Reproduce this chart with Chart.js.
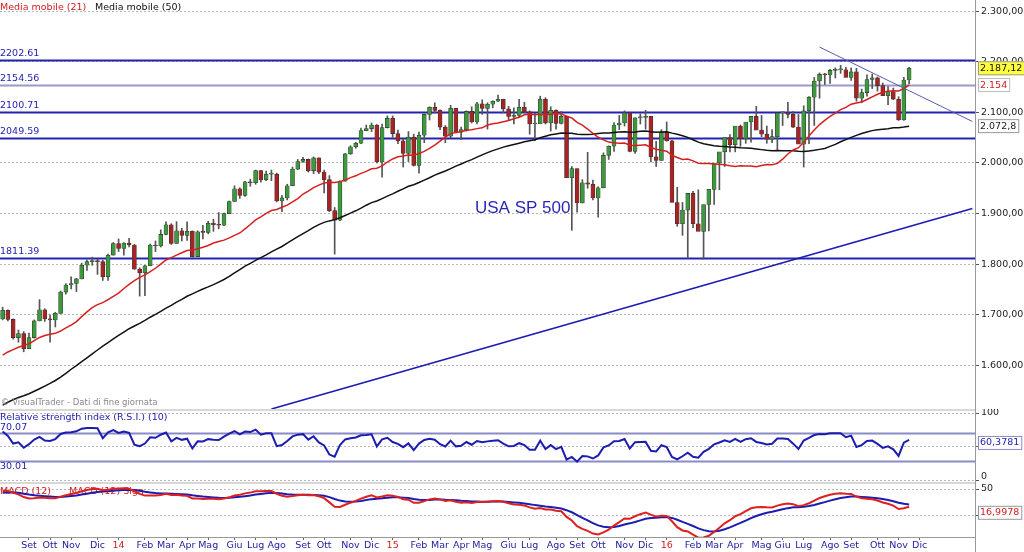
<!DOCTYPE html>
<html lang="it">
<head>
<meta charset="UTF-8">
<title>USA SP 500</title>
<style>
  body { margin: 0; background: #fff; width: 1024px; height: 552px; overflow: hidden; position: relative; font-family: "DejaVu Sans", Verdana, sans-serif; }
  canvas { position: absolute; left: 0; }
  #main { top: 0; }
  #rsi { top: 409px; }
  #macd { top: 482px; }
</style>
<script src="https://cdn.jsdelivr.net/npm/chart.js"></script>
</head>
<body>
<canvas id="main" width="1024" height="409"></canvas>
<canvas id="rsi" width="1024" height="73"></canvas>
<canvas id="macd" width="1024" height="70"></canvas>
<script>
// weekly candles, first week 2 Aug 2013
const firstWeek = Date.UTC(2013, 7, 2);
const emptyWeeksRight = 12;
const monthNames = ['Gen','Feb','Mar','Apr','Mag','Giu','Lug','Ago','Set','Ott','Nov','Dic'];

// weekly closes before the visible window (used only to warm up the averages)
const priorCloses = [1418,1411,1406,1438,1466,1460,1441,1460,1428,1433,1411,1414,1380,1360,1409,1416,1418,1413,1430,1402,
  1466,1472,1486,1503,1513,1518,1520,1516,1518,1551,1561,1556,1569,1553,1588,1555,1582,1614,1633,1667,1650,1631,1643,1626,1593,1606,1632,1680,1692,1691];

const opens = [
  1692,1709,1691,1655,1663,1633,1655,1688,1710,1692,1690,1703,1745,1759,1762,1771,1798,1805,1806,1805,1775,1818,
  1841,1831,1842,1838,1790,1783,1797,1838,1836,1859,1878,1841,1866,1857,1865,1815,1864,1863,1881,1878,1877,1900,1924,1949,1936,1963,1961,1985,1967,1978,1978,1925,1931,1955,1988,2003,2007,1985,2010,1982,1967,1906,1887,1964,2018,2032,2039,2064,2068,2075,2002,2070,
  2088,2058,2044,2019,2051,1995,2055,2096,2110,2104,2071,2053,2108,2061,2066,2102,2081,2117,2108,2116,2122,2126,2107,2092,2094,2110,2101,2077,2077,2126,2079,2104,2078,2092,1971,1989,1921,1961,1958,1931,1951,2015,2033,2075,2079,2099,2023,2089,2090,2092,2012,2005,2061,
  2044,1922,1880,1907,1940,1880,1865,1918,1948,2000,2022,2050,2036,2073,2048,2081,2092,2065,2057,2047,2052,2099,2099,2096,2071,2037,2103,2130,2162,2175,2174,2183,2184,2184,2169,2180,2128,2139,2165,2168,2153,2133,2141,2126,2085,2164];
const highs = [
  1715,1710,1692,1670,1667,1664,1690,1730,1712,1700,1705,1747,1762,1775,1772,1802,1808,1814,1810,1808,1820,1843,
  1850,1843,1851,1839,1793,1798,1840,1846,1868,1884,1880,1884,1871,1884,1866,1866,1877,1885,1889,1902,1901,1925,1955,1951,1964,1968,1986,1985,1984,1986,1980,1936,1958,1992,2007,2011,2008,2012,2010,1986,1975,1912,1965,2019,2034,2041,2069,2075,2079,2076,2077,2093,
  2093,2065,2047,2062,2057,2061,2097,2111,2119,2105,2074,2114,2107,2071,2103,2111,2120,2125,2119,2123,2134,2126,2112,2109,2126,2120,2103,2098,2132,2129,2111,2105,2102,2093,1993,1988,1967,2021,1966,1953,2020,2034,2080,2094,2103,2099,2089,2097,2104,2092,2043,2066,2081,
  2045,1952,1922,1917,1944,1947,1895,1930,1948,2010,2023,2056,2062,2075,2076,2085,2112,2094,2073,2066,2064,2101,2120,2102,2096,2113,2131,2169,2178,2177,2185,2188,2193,2189,2188,2187,2146,2174,2176,2170,2158,2151,2148,2131,2169,2189];
const lows = [
  1690,1688,1652,1646,1627,1633,1654,1688,1687,1646,1676,1703,1741,1751,1746,1771,1788,1798,1780,1768,1768,1818,
  1825,1818,1834,1790,1737,1738,1797,1825,1834,1858,1839,1841,1846,1847,1814,1816,1850,1860,1865,1870,1876,1900,1924,1930,1934,1954,1958,1962,1965,1965,1923,1904,1927,1955,1987,2001,1982,1979,1979,1941,1904,1820,1886,1964,2017,2029,2038,2064,2062,2000,1972,2069,
  2051,2038,1992,2003,1994,1980,2040,2085,2099,2066,2040,2050,2061,2046,2063,2079,2077,2096,2067,2109,2121,2099,2085,2077,2091,2099,2057,2044,2080,2077,2063,2067,2077,1971,1867,1903,1921,1950,1927,1893,1951,2007,2023,2066,2073,2022,2019,2077,2067,2002,1993,2005,2043,
  2038,1875,1857,1812,1872,1872,1810,1866,1918,1947,1993,2022,2022,2033,2039,2041,2077,2052,2039,2040,2025,2074,2089,2070,2050,1992,2038,2074,2128,2155,2157,2168,2177,2175,2163,2122,2119,2132,2147,2142,2133,2115,2125,2084,2084,2156];
const closes = [
  1709,1691,1655,1663,1633,1655,1688,1710,1692,1690,1703,1745,1759,1762,1771,1798,1805,1806,1805,1775,1818,1841,
  1831,1842,1838,1790,1783,1797,1838,1836,1859,1878,1841,1866,1857,1865,1815,1864,1863,1881,1878,1877,1900,1924,1949,1936,1963,1961,1985,1967,1978,1978,1925,1931,1955,1988,2003,2007,1985,2010,1982,1967,1906,1887,1964,2018,2032,2039,2064,2068,2075,2002,2070,2088,
  2058,2044,2019,2051,1995,2055,2096,2110,2104,2071,2053,2108,2061,2066,2102,2081,2117,2108,2116,2122,2126,2107,2092,2094,2110,2101,2077,2077,2126,2079,2104,2078,2092,1971,1989,1921,1961,1958,1931,1951,2015,2033,2075,2079,2099,2023,2089,2090,2092,2012,2005,2061,2044,
  1922,1880,1907,1940,1880,1865,1918,1948,2000,2022,2050,2036,2073,2048,2081,2092,2065,2057,2047,2052,2099,2099,2096,2071,2037,2103,2130,2162,2175,2174,2183,2184,2184,2169,2180,2128,2139,2165,2168,2153,2133,2141,2126,2085,2164,2187.12];

// horizontal levels and trend lines [weekIndex, value]
const levels = [2202.61, 2154.56, 2100.71, 2049.59, 1811.39];
const levelColors = ['#2323b0', '#9a9ac8', '#2323b0', '#2323b0', '#2323b0'];
const upTrend = [[51, 1514], [184, 1910]];
const downTrend = [[155, 2229], [184, 2082]];
const rsiLevels = [70.07, 30.01];
const mainTicks = [1600, 1700, 1800, 1900, 2000, 2100, 2200, 2300];
const rsiTicks = [0, 50, 100];
const macdTicks = [0, 50];

const n = closes.length;
const total = n + emptyWeeksRight;
const weeks = [];
for (let i = 0; i < total; i++) weeks.push(new Date(firstWeek + i * 7 * 86400000));
const labels = weeks.map(d => d.toISOString().slice(0, 10));

// indicators
const allCloses = priorCloses.concat(closes);
const off = priorCloses.length;
function sma(p) {
  const out = [];
  for (let i = 0; i < n; i++) {
    let s = 0;
    for (let k = 0; k < p; k++) s += allCloses[off + i - k];
    out.push(s / p);
  }
  return out;
}
function ema(src, p) {
  const a = 2 / (p + 1); const out = [src[0]];
  for (let i = 1; i < src.length; i++) out.push(src[i] * a + out[i - 1] * (1 - a));
  return out;
}
const ma21 = sma(21), ma50 = sma(50);
const e12 = ema(allCloses, 12), e26 = ema(allCloses, 26);
const macdAll = e12.map((v, i) => v - e26[i]);
const sigAll = ema(macdAll, 9);
const macd = macdAll.slice(off), sig = sigAll.slice(off);
const rsiAll = [];
{
  let g = 0, l = 0;
  for (let i = 1; i <= 10; i++) { const d = allCloses[i] - allCloses[i - 1]; if (d > 0) g += d; else l -= d; }
  g /= 10; l /= 10;
  for (let i = 11; i < allCloses.length; i++) {
    const d = allCloses[i] - allCloses[i - 1];
    g = (g * 9 + Math.max(d, 0)) / 10; l = (l * 9 + Math.max(-d, 0)) / 10;
    rsiAll[i] = 100 - 100 / (1 + g / l);
  }
}
const rsi = rsiAll.slice(off);

const FONT = '"DejaVu Sans", Verdana, sans-serif';
Chart.defaults.font.family = FONT;
Chart.defaults.font.size = 9;
Chart.defaults.animation = false;

const fmt = (v, d) => v.toLocaleString('it-IT', { minimumFractionDigits: d, maximumFractionDigits: d });
const fixWidth = s => { s.width = 49; };
function yAxis(min, max, ticks) {
  return {
    position: 'right', min, max, afterFit: fixWidth,
    afterBuildTicks: s => { s.ticks = ticks.map(v => ({ value: v })); },
    grid: { color: '#b8b8b8', tickLength: 4, tickColor: '#555' },
    border: { display: false, dash: [2, 2] },
    ticks: { display: false }
  };
}
const hiddenX = { type: 'category', offset: true, display: false, grid: { offset: true } };

// tick labels drawn by hand so the plot fills the whole canvas height
function tickLabels(chart, ticks, dec) {
  const { ctx, chartArea: a, scales: { y } } = chart;
  ctx.save();
  ctx.fillStyle = '#222'; ctx.font = '9.5px ' + FONT; ctx.textBaseline = 'middle'; ctx.textAlign = 'left';
  ticks.forEach(v => ctx.fillText(fmt(v, dec), a.right + 6, Math.min(y.getPixelForValue(v), ctx.canvas.height - 5)));
  ctx.restore();
}
function box(ctx, text, y, fill, textColor, border) {
  ctx.font = '9.5px ' + FONT;
  const w = ctx.measureText(text).width + 4;
  ctx.fillStyle = fill; ctx.fillRect(978, y - 7, w, 14);
  ctx.strokeStyle = border; ctx.lineWidth = 1; ctx.strokeRect(978.5, y - 6.5, w, 13);
  ctx.fillStyle = textColor; ctx.textBaseline = 'middle'; ctx.textAlign = 'left';
  ctx.fillText(text, 980, y);
}
function vLine(ctx, area) {
  ctx.strokeStyle = '#999'; ctx.lineWidth = 1;
  ctx.beginPath(); ctx.moveTo(area.right + 0.5, 0); ctx.lineTo(area.right + 0.5, ctx.canvas.height); ctx.stroke();
}

const mainOverlay = {
  id: 'mainOverlay',
  beforeDatasetsDraw(chart) {
    const { ctx, chartArea: a, scales: { y } } = chart;
    ctx.save();
    levels.forEach((v, i) => {
      const py = Math.round(y.getPixelForValue(v)) + 0.5;
      ctx.strokeStyle = levelColors[i]; ctx.lineWidth = 2;
      ctx.beginPath(); ctx.moveTo(0, py); ctx.lineTo(a.right, py); ctx.stroke();
      ctx.fillStyle = '#2323b0'; ctx.font = '9.5px ' + FONT; ctx.textBaseline = 'bottom';
      ctx.fillText(v.toFixed(2), 0, py - 2);
    });
    ctx.restore();
  },
  afterDatasetsDraw(chart) {
    const { ctx, chartArea: a, scales: { x, y } } = chart;
    ctx.save();
    ctx.beginPath(); ctx.rect(a.left, a.top, a.right - a.left, a.bottom - a.top); ctx.clip();
    const line = (pts, col, w) => {
      ctx.strokeStyle = col; ctx.lineWidth = w; ctx.beginPath();
      ctx.moveTo(x.getPixelForValue(pts[0][0]), y.getPixelForValue(pts[0][1]));
      ctx.lineTo(x.getPixelForValue(pts[1][0]), y.getPixelForValue(pts[1][1]));
      ctx.stroke();
    };
    line(upTrend, '#1c1cb4', 1.6);
    line(downTrend, '#5a5aa8', 1);
    ctx.restore();
    ctx.save();
    vLine(ctx, a);
    tickLabels(chart, mainTicks, 2);
    ctx.font = '9.5px ' + FONT; ctx.textBaseline = 'top'; ctx.textAlign = 'left';
    ctx.fillStyle = '#d02020'; ctx.fillText('Media mobile (21)', 0, 3);
    ctx.fillStyle = '#111'; ctx.fillText('Media mobile (50)', 95, 3);
    ctx.fillStyle = '#888'; ctx.font = '8.5px ' + FONT; ctx.fillText('\u00a9 VisualTrader - Dati di fine giornata', 1, 399);
    ctx.fillStyle = '#2828b8'; ctx.font = '17px "Liberation Sans", Arial, sans-serif';
    ctx.fillText('USA SP 500', 475, 200);
    box(ctx, fmt(closes[n - 1], 2), y.getPixelForValue(closes[n - 1]), '#ffff40', '#111', '#999');
    box(ctx, fmt(ma21[n - 1], 0), y.getPixelForValue(ma21[n - 1]), '#fff', '#d02020', '#bbb');
    box(ctx, fmt(ma50[n - 1], 1), y.getPixelForValue(ma50[n - 1]), '#fff', '#222', '#999');
    ctx.restore();
  }
};

new Chart(document.getElementById('main'), {
  type: 'bar',
  data: {
    labels,
    datasets: [
      { type: 'line', data: ma21, borderColor: '#d62020', borderWidth: 1.5, pointRadius: 0, order: 1 },
      { type: 'line', data: ma50, borderColor: '#111', borderWidth: 1.5, pointRadius: 0, order: 1 },
      { data: lows.map((l, i) => [l, highs[i]]), backgroundColor: '#555', barThickness: 1, grouped: false, order: 3 },
      { data: opens.map((o, i) => [o, closes[i]]), grouped: false, barThickness: 4, order: 2,
        backgroundColor: opens.map((o, i) => closes[i] >= o ? '#3c9a3c' : '#a82424'),
        borderColor: '#333', borderWidth: 0.6, borderSkipped: false, minBarLength: 1 }
    ]
  },
  options: {
    responsive: false, layout: { padding: 0 },
    plugins: { legend: { display: false }, tooltip: { enabled: false } },
    scales: { x: hiddenX, y: yAxis(1514, 2322, mainTicks) }
  },
  plugins: [mainOverlay]
});

new Chart(document.getElementById('rsi'), {
  type: 'line',
  data: { labels, datasets: [{ data: rsi, borderColor: '#1c1cb0', borderWidth: 2, pointRadius: 0 }] },
  options: {
    responsive: false, layout: { padding: 0 },
    plugins: { legend: { display: false }, tooltip: { enabled: false } },
    scales: { x: hiddenX, y: yAxis(-1.5, 105.9, rsiTicks) }
  },
  plugins: [{
    id: 'rsiOverlay',
    beforeDatasetsDraw(chart) {
      const { ctx, chartArea: a, scales: { y } } = chart;
      ctx.save();
      ctx.fillStyle = '#d8d8d8'; ctx.fillRect(0, 0, a.right, 2);
      rsiLevels.forEach(v => {
        const py = Math.round(y.getPixelForValue(v)) + 0.5;
        ctx.strokeStyle = '#8a8ac8'; ctx.lineWidth = 2;
        ctx.beginPath(); ctx.moveTo(0, py); ctx.lineTo(a.right, py); ctx.stroke();
        ctx.fillStyle = '#2323b0'; ctx.font = '9.5px ' + FONT; ctx.textBaseline = 'bottom';
        ctx.fillText(v.toFixed(2), 0, py + (v > 50 ? -1 : 10));
      });
      ctx.fillStyle = '#2323b0'; ctx.textBaseline = 'top';
      ctx.fillText('Relative strength index (R.S.I.) (10)', 0, 4);
      ctx.restore();
    },
    afterDatasetsDraw(chart) {
      const { ctx, chartArea: a, scales: { y } } = chart;
      ctx.save(); vLine(ctx, a);
      tickLabels(chart, rsiTicks, 0);
      box(ctx, fmt(rsi[n - 1], 4), y.getPixelForValue(rsi[n - 1]) + 3, '#fff', '#2323b0', '#8a8ac8');
      ctx.restore();
    }
  }]
});

new Chart(document.getElementById('macd'), {
  type: 'line',
  data: { labels, datasets: [
    { data: macd, borderColor: '#dd2020', borderWidth: 2, pointRadius: 0 },
    { data: sig, borderColor: '#1c1cb0', borderWidth: 2, pointRadius: 0 }
  ] },
  options: {
    responsive: false, layout: { padding: 0 },
    plugins: { legend: { display: false }, tooltip: { enabled: false } },
    scales: {
      x: {
        type: 'category', offset: true, afterFit: s => { s.height = 15; },
        grid: { offset: false, drawOnChartArea: false, tickLength: 3,
          color: c => c.index > 0 && c.index < n + 3 && weeks[c.index].getUTCMonth() !== weeks[c.index - 1].getUTCMonth() ? '#666' : 'rgba(0,0,0,0)' },
        border: { color: '#999' },
        ticks: {
          autoSkip: false, maxRotation: 0, padding: 0, font: { size: 9.5 },
          color: c => weeks[c.index] && weeks[c.index].getUTCMonth() === 0 ? '#d02020' : '#1c1c9c',
          callback: (v, i) => {
            if (i === 0 || i >= n + 3) return '';
            const d = weeks[i], p = weeks[i - 1];
            if (d.getUTCMonth() === p.getUTCMonth()) return '';
            return d.getUTCMonth() === 0 ? String(d.getUTCFullYear()).slice(2) : monthNames[d.getUTCMonth()];
          }
        }
      },
      y: yAxis(-39, 63, macdTicks)
    }
  },
  plugins: [{
    id: 'macdOverlay',
    beforeDatasetsDraw(chart) {
      const { ctx, chartArea: a } = chart;
      ctx.save();
      ctx.fillStyle = '#d8d8d8'; ctx.fillRect(0, 0, a.right, 2);
      ctx.fillStyle = '#d02020'; ctx.font = '9.5px ' + FONT; ctx.textBaseline = 'top';
      ctx.fillText('MACD (12)      MACD (12) Sign', 0, 5);
      ctx.restore();
    },
    afterDatasetsDraw(chart) {
      const { ctx, chartArea: a, scales: { y } } = chart;
      ctx.save(); vLine(ctx, a);
      tickLabels(chart, macdTicks, 0);
      box(ctx, fmt(macd[n - 1], 4), y.getPixelForValue(macd[n - 1]) + 6, '#fff', '#d02020', '#999');
      ctx.restore();
    }
  }]
});
</script>
</body>
</html>
